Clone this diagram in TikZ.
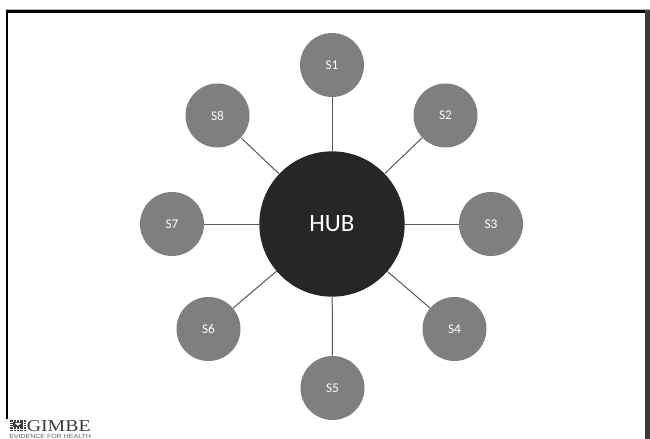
\documentclass[tikz,border=0pt]{standalone}
\usepackage{fontspec}
\setmainfont{Carlito}
\newfontfamily\logoserif{Liberation Serif}
\newfontfamily\logosans{Liberation Sans}
\definecolor{satgray}{HTML}{7F7F7F}
\definecolor{hubgray}{HTML}{262626}
\definecolor{linegray}{HTML}{595959}
\definecolor{framegray}{HTML}{3A3A3A}
\definecolor{logogray}{HTML}{3C3C3C}
\tikzset{
  sat/.style={circle, fill=satgray, draw=none, minimum size=48pt, inner sep=0pt,
              text=white, font=\fontsize{10}{12}\selectfont},
  hub/.style={circle, fill=hubgray, draw=none, minimum size=109pt, inner sep=0pt,
              text=white, font=\fontsize{18.7}{22}\selectfont},
  spoke/.style={draw=linegray, line width=0.75pt},
  framebar/.style={fill=black, draw=none},
}
\begin{document}
\begin{tikzpicture}[x=0.75pt, y=-0.75pt]
\useasboundingbox (0,0) rectangle (650,439);
\fill[white] (0,0) rectangle (650,439);
% frame
\fill[gray!60] (6,9.3) rectangle (650,10.2);
\fill[framebar] (6,10.2) rectangle (650,12.6);
\fill[framebar] (6,10.2) rectangle (8.4,419);
\fill[framegray] (645,10.2) rectangle (650,439);
% nodes
\node[hub] (hub) at (332,224) {HUB};
\node[sat] (s1) at (332,65) {S1};
\node[sat] (s2) at (445.5,115.5) {S2};
\node[sat] (s3) at (491,224) {S3};
\node[sat] (s4) at (454.5,329) {S4};
\node[sat] (s5) at (332.5,388) {S5};
\node[sat] (s6) at (208.5,329) {S6};
\node[sat] (s7) at (172,224) {S7};
\node[sat] (s8) at (217.5,115.5) {S8};
% spokes
\foreach \s in {s1,s2,s3,s4,s5,s6,s7,s8}
  \draw[spoke] (hub) -- (\s);
% logo
\fill[logogray] (10,420) rectangle (26,431);
\foreach \yy in {422.2,424.4,426.6,428.8}
  \draw[white, line width=0.4pt] (10,\yy) -- (26,\yy);
\foreach \xx in {13.2,16.4,19.6,22.8}
  \draw[white, line width=0.4pt] (\xx,420) -- (\xx,431);
\fill[logogray] (13.2,422.2) rectangle (22.8,426.6);
\fill[white] (14.5,422.8) -- (21.5,422.8) -- (18,425.8) -- cycle;
\node[anchor=base west, inner sep=0pt, text=logogray, font=\logoserif\fontsize{12.5}{13}\selectfont] (logo) at (26.5,431) {\scalebox{1.19}[1]{GIMBE}};
\node[anchor=base west, inner sep=0pt, text=logogray!80, font=\logosans\fontsize{4.5}{5}\selectfont] (logosub) at (9,438) {\scalebox{1.17}[1]{EVIDENCE FOR HEALTH}};
\end{tikzpicture}
\end{document}
